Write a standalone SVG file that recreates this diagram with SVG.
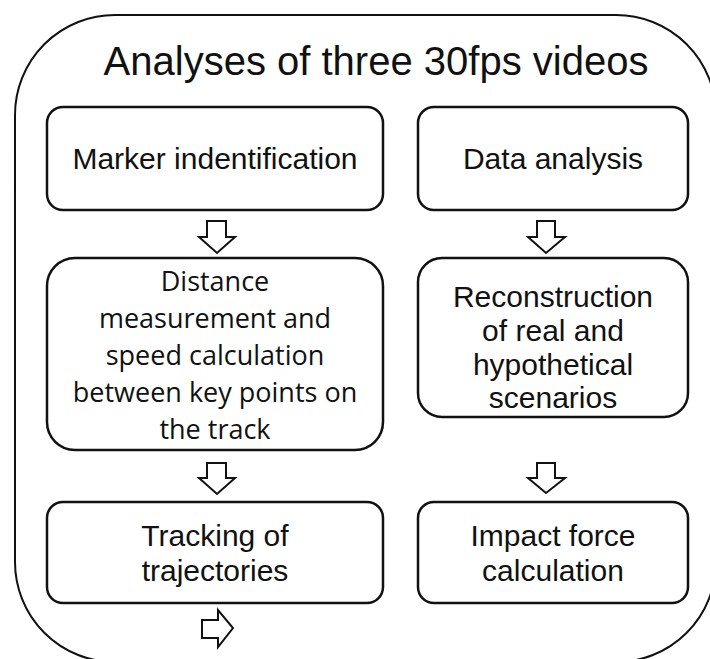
<svg xmlns="http://www.w3.org/2000/svg" width="710" height="659" viewBox="0 0 710 659">
<style>
.box{fill:#fff;stroke:#111;stroke-width:2.5}
.outer{fill:#fff;stroke:#111;stroke-width:2}
.t{font-family:"Liberation Sans",Arial,sans-serif;font-size:30px;fill:#111;text-anchor:middle}
.c{font-family:"Open Sans","Noto Sans",sans-serif;font-size:27px;fill:#111;text-anchor:middle}
.arr{fill:#fff;stroke:#111;stroke-width:2}
</style>
<rect class="outer" x="15" y="15" width="701" height="647" rx="100" ry="100"/>
<text x="376" y="75" font-family="Liberation Sans, Arial, sans-serif" font-size="40" fill="#111" text-anchor="middle">Analyses of three 30fps videos</text>
<g id="marker">
<rect class="box" x="47" y="107" width="336" height="103" rx="16"/>
<text class="t" x="215" y="169">Marker indentification</text>
</g>
<g id="data">
<rect class="box" x="418" y="107" width="270" height="103" rx="16"/>
<text class="t" x="553" y="169">Data analysis</text>
</g>
<g id="distance">
<rect class="box" x="47" y="258" width="336" height="192" rx="28"/>
<text class="c" x="215" y="291">Distance</text>
<text class="c" x="215" y="328">measurement and</text>
<text class="c" x="215" y="365">speed calculation</text>
<text class="c" x="215" y="402">between key points on</text>
<text class="c" x="215" y="439">the track</text>
</g>
<g id="reconstruction">
<rect class="box" x="418" y="258" width="270" height="159" rx="24"/>
<text class="t" x="553" y="307">Reconstruction</text>
<text class="t" x="553" y="341">of real and</text>
<text class="t" x="553" y="375">hypothetical</text>
<text class="t" x="553" y="408">scenarios</text>
</g>
<g id="tracking">
<rect class="box" x="47" y="502" width="336" height="101" rx="16"/>
<text class="t" x="215" y="546">Tracking of</text>
<text class="t" x="215" y="581">trajectories</text>
</g>
<g id="impact">
<rect class="box" x="418" y="502" width="270" height="101" rx="16"/>
<text class="t" x="553" y="546">Impact force</text>
<text class="t" x="553" y="581">calculation</text>
</g>
<g id="connectors">
<path class="arr" d="M207 221 H226 V237 H235 L217 253 L199 237 H207 Z"/>
<path class="arr" d="M537 221 H555 V237 H565 L546 253 L528 237 H537 Z"/>
<path class="arr" d="M207 463 H226 V478 H235 L217 494 L199 478 H207 Z"/>
<path class="arr" d="M537 463 H555 V478 H565 L546 493 L528 478 H537 Z"/>
<path class="arr" d="M202 620 H218 V610 L233 628 L218 647 V638 H202 Z"/>
</g>
</svg>
